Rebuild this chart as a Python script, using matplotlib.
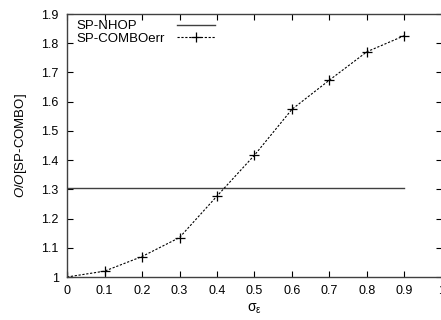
import matplotlib
matplotlib.use("Agg")
import matplotlib.pyplot as plt
from matplotlib.lines import Line2D

sigma = [0.0, 0.1, 0.2, 0.3, 0.4, 0.5, 0.6, 0.7, 0.8, 0.9]
combo_err = [1.0, 1.02, 1.07, 1.135, 1.277, 1.417, 1.574, 1.674, 1.771, 1.826]
nhop_x = [0.0, 0.9]
nhop = [1.305, 1.305]
xticks = [0, 0.1, 0.2, 0.3, 0.4, 0.5, 0.6, 0.7, 0.8, 0.9, 1]
xlabels = ["0", "0.1", "0.2", "0.3", "0.4", "0.5", "0.6", "0.7", "0.8", "0.9", "1"]
yticks = [1, 1.1, 1.2, 1.3, 1.4, 1.5, 1.6, 1.7, 1.8, 1.9]
ylabels = ["1", "1.1", "1.2", "1.3", "1.4", "1.5", "1.6", "1.7", "1.8", "1.9"]
legend_labels = ["SP-NHOP", "SP-COMBOerr"]

plt.rcParams['font.family'] = ['Liberation Sans', 'DejaVu Sans']
plt.rcParams['mathtext.fontset'] = 'custom'
plt.rcParams['mathtext.rm'] = 'Liberation Sans'
plt.rcParams['mathtext.it'] = 'Liberation Sans:italic'

fig = plt.figure(figsize=(4.41, 3.2), dpi=100)
ax = fig.add_axes([67/441, 43/320, 375/441, 263/320])

nhop_style = dict(color='#404040', lw=1.0)
combo_style = dict(color='black', lw=0.8, ls=(0, (2, 1.5)),
                   marker='+', ms=6.5, mew=0.9)

ax.plot(nhop_x, nhop, **nhop_style)
ax.plot(sigma, combo_err, **combo_style)

ax.set_xlim(0, 1)
ax.set_ylim(1, 1.9)
ax.set_xticks(xticks)
ax.set_xticklabels(xlabels)
ax.set_yticks(yticks)
ax.set_yticklabels(ylabels)
ax.tick_params(direction='in', length=4, width=0.8, top=True, right=True,
               labelsize=9, colors='black')
ax.tick_params(axis='x', pad=6)
ax.tick_params(axis='y', pad=6)
for s in ax.spines.values():
    s.set_linewidth(1.0)
    s.set_color('#404040')

ax.set_xlabel(r'σ$_{\mathrm{ε}}$', fontsize=10, labelpad=3)
ax.set_ylabel(r'$\mathit{O/O[}$SP-COMBO$\mathit{]}$', fontsize=9.5, labelpad=9)

# gnuplot-style key: labels left-aligned, samples to the right
tr = ax.transAxes
ax.text(0.024, 0.942, legend_labels[0], transform=tr, fontsize=9.5,
        ha='left', va='baseline')
ax.text(0.024, 0.8935, legend_labels[1], transform=tr, fontsize=9.5,
        ha='left', va='baseline')
ax.add_line(Line2D([0.293, 0.395], [0.959, 0.959], transform=tr, **nhop_style))
ax.add_line(Line2D([0.293, 0.395], [0.9125, 0.9125], transform=tr,
                   color='black', lw=0.8, ls=(0, (2, 1.5))))
ax.add_line(Line2D([0.344], [0.9125], transform=tr, color='black',
                   marker='+', ms=6.5, mew=0.9, ls='none'))

fig.savefig('out.png', dpi=100)
